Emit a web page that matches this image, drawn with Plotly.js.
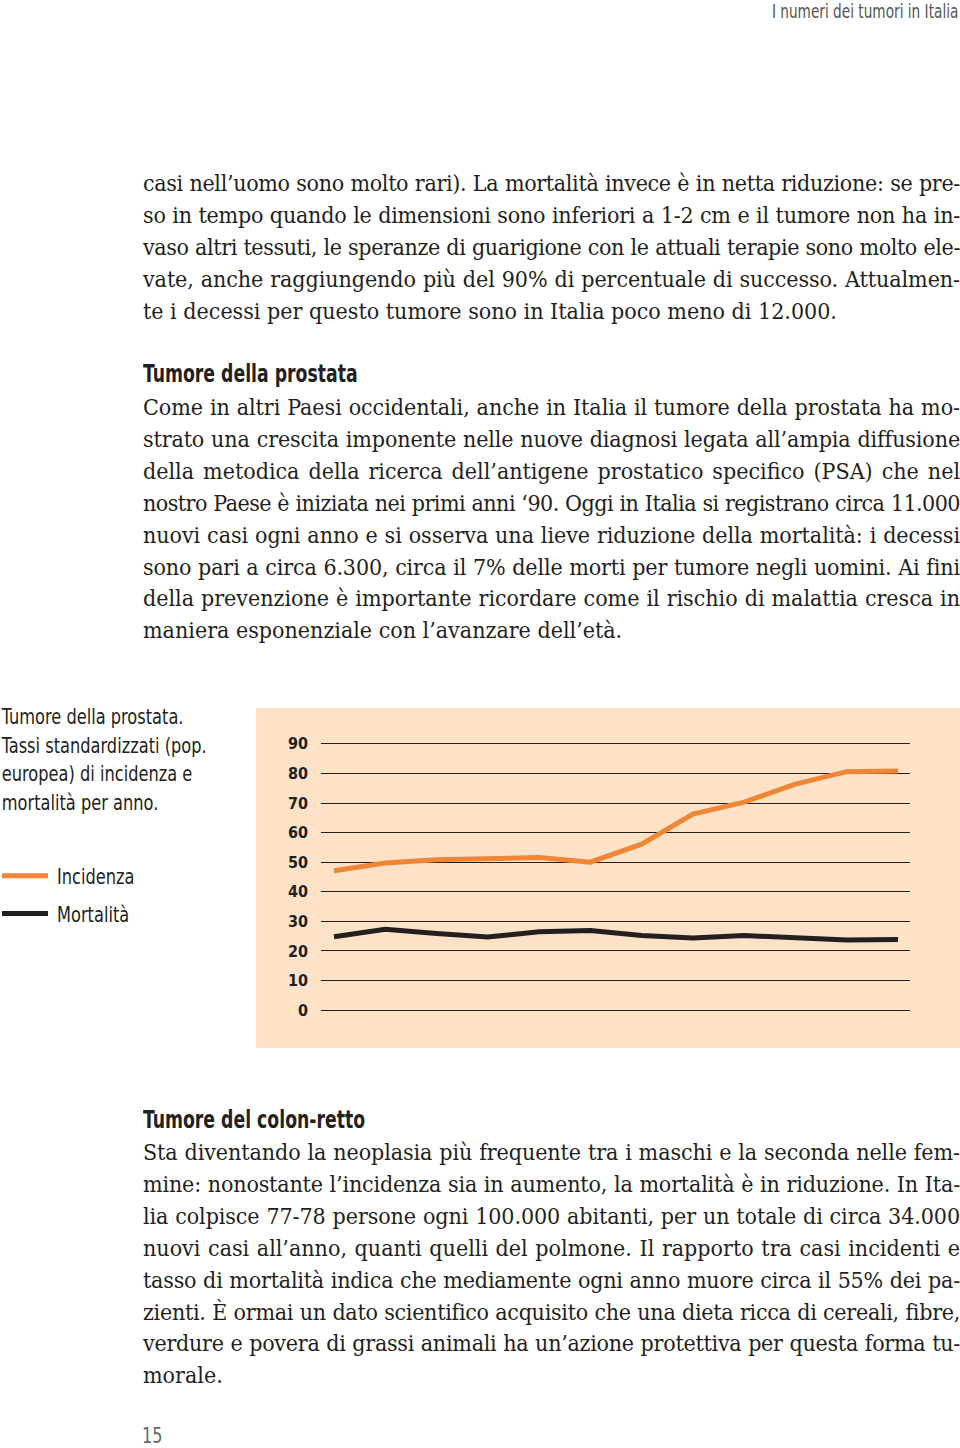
<!DOCTYPE html>
<html lang="it">
<head>
<meta charset="utf-8">
<script src="https://cdn.plot.ly/plotly-3.0.1.min.js"></script>
<style>
  html, body { margin:0; padding:0; width:960px; height:1448px; overflow:hidden; background:#fff; }
  .hdr { position:absolute; right:2px; top:0px; font-family:"DejaVu Sans Condensed","Liberation Sans",sans-serif; font-weight:300; font-size:20px; line-height:22px; color:#555; transform:scaleX(0.76); transform-origin:100% 50%; white-space:nowrap; }
  .para { position:absolute; left:143px; width:817px; font-family:"DejaVu Serif","Liberation Serif",serif; font-stretch:condensed; font-size:23px; line-height:31.9px; color:#231f20; }
  .ln { white-space:nowrap; width:817px; text-align:left; }
  .ln.j { text-align:justify; text-align-last:justify; }
  .h { position:absolute; left:143px; font-family:"DejaVu Sans Condensed","Liberation Sans",sans-serif; font-weight:bold; font-size:24px; color:#231f20; line-height:30px; white-space:nowrap; transform:scaleX(0.80); transform-origin:0 50%; }
  .pg { position:absolute; left:142px; top:1424px; font-family:"DejaVu Sans Condensed","Liberation Sans",sans-serif; font-size:21px; color:#666; transform:scaleX(0.85); transform-origin:0 50%; }
  #chart { position:absolute; left:0; top:700px; width:960px; height:360px; }
  #chart .annotation-text { transform-box:fill-box; transform-origin:0 50%; transform:scaleX(0.82); }
  #chart .legendtext { transform-box:fill-box; transform-origin:0 50%; transform:translateX(4px) scaleX(0.82); }
</style>
</head>
<body>
<div class="hdr">I numeri dei tumori in Italia</div>

<div class="para" id="p1" style="top:168px"></div>
<div class="h" style="top:359px">Tumore della prostata</div>
<div class="para" id="p2" style="top:392px"></div>
<div class="h" style="top:1105px">Tumore del colon-retto</div>
<div class="para" id="p3" style="top:1137px"></div>
<div class="pg">15</div>

<div id="chart"></div>

<script>
// ---- testo della pagina ----
const righeP1 = [
  "casi nell’uomo sono molto rari). La mortalità invece è in netta riduzione: se pre-",
  "so in tempo quando le dimensioni sono inferiori a 1-2 cm e il tumore non ha in-",
  "vaso altri tessuti, le speranze di guarigione con le attuali terapie sono molto ele-",
  "vate, anche raggiungendo più del 90% di percentuale di successo. Attualmen-",
  "te i decessi per questo tumore sono in Italia poco meno di 12.000."
];
const righeP2 = [
  "Come in altri Paesi occidentali, anche in Italia il tumore della prostata ha mo-",
  "strato una crescita imponente nelle nuove diagnosi legata all’ampia diffusione",
  "della metodica della ricerca dell’antigene prostatico specifico (PSA) che nel",
  "nostro Paese è iniziata nei primi anni ‘90. Oggi in Italia si registrano circa 11.000",
  "nuovi casi ogni anno e si osserva una lieve riduzione della mortalità: i decessi",
  "sono pari a circa 6.300, circa il 7% delle morti per tumore negli uomini. Ai fini",
  "della prevenzione è importante ricordare come il rischio di malattia cresca in",
  "maniera esponenziale con l’avanzare dell’età."
];
const righeP3 = [
  "Sta diventando la neoplasia più frequente tra i maschi e la seconda nelle fem-",
  "mine: nonostante l’incidenza sia in aumento, la mortalità è in riduzione. In Ita-",
  "lia colpisce 77-78 persone ogni 100.000 abitanti, per un totale di circa 34.000",
  "nuovi casi all’anno, quanti quelli del polmone. Il rapporto tra casi incidenti e",
  "tasso di mortalità indica che mediamente ogni anno muore circa il 55% dei pa-",
  "zienti. È ormai un dato scientifico acquisito che una dieta ricca di cereali, fibre,",
  "verdure e povera di grassi animali ha un’azione protettiva per questa forma tu-",
  "morale."
];

function fill(id, lines) {
  const box = document.getElementById(id);
  lines.forEach((t, i) => {
    const d = document.createElement('div');
    d.className = 'ln';
    d.textContent = t;
    box.appendChild(d);
    const r = document.createRange();
    r.selectNodeContents(d);
    const w = r.getBoundingClientRect().width;
    if (w > 812) {
      d.style.letterSpacing = ((812 - w) / t.length).toFixed(3) + 'px';
    }
    if (i < lines.length - 1) d.classList.add('j');
  });
}
fill('p1', righeP1);
fill('p2', righeP2);
fill('p3', righeP3);

// ---- dati del grafico ----
const punti = [0, 1, 2, 3, 4, 5, 6, 7, 8, 9, 10, 11];
const incidenza = [47.1, 49.7, 50.8, 51.3, 51.6, 50.0, 56.1, 66.3, 70.3, 76.4, 80.6, 80.8];
const mortalita = [24.8, 27.3, 25.9, 24.7, 26.5, 26.9, 25.2, 24.4, 25.2, 24.6, 23.7, 23.9];
const tickY = [0, 10, 20, 30, 40, 50, 60, 70, 80, 90];
const nomi = ['Incidenza', 'Mortalità'];
const titolo = 'Tumore della prostata.<br>Tassi standardizzati (pop.<br>europea) di incidenza e<br>mortalità per anno.';

const sans = '"DejaVu Sans Condensed","Liberation Sans",sans-serif';

const traces = [
  { x: punti, y: incidenza, name: nomi[0], type: 'scatter', mode: 'lines',
    line: { color: '#ee8636', width: 5 }, legendgroup: 'a', hoverinfo: 'skip' },
  { x: punti, y: mortalita, name: nomi[1], type: 'scatter', mode: 'lines',
    line: { color: '#231f20', width: 5 }, legendgroup: 'b', hoverinfo: 'skip' }
];

const L = 321, R = 910, T = 735, B = 1019, TOP = 700;
const pw = R - L, ph = B - T;

const layout = {
  width: 960, height: 360,
  margin: { l: L, r: 960 - R, t: T - TOP, b: TOP + 360 - B, pad: 0, autoexpand: false },
  paper_bgcolor: 'rgba(0,0,0,0)',
  plot_bgcolor: 'rgba(0,0,0,0)',
  showlegend: true,
  legend: { x: (-3 - L) / pw, xanchor: 'left', y: (B - 855) / ph, yanchor: 'top',
            font: { family: sans, size: 22, color: '#231f20' },
            traceorder: 'grouped', tracegroupgap: 6, bgcolor: 'rgba(0,0,0,0)',
            itemwidth: 46 },
  annotations: [{ text: titolo, xref: 'paper', yref: 'paper', showarrow: false,
                  x: (-1 - L) / pw, xanchor: 'left', y: (B - 702) / ph, yanchor: 'top',
                  align: 'left', font: { family: sans, size: 22, color: '#231f20' } }],
  xaxis: { range: [-13 / 51.27, 11 + 12 / 51.27], showgrid: false, zeroline: false,
           showticklabels: false, ticks: '', showline: false, fixedrange: true },
  yaxis: { range: [-3, 93], tickvals: tickY, showgrid: true, gridcolor: '#231f20', gridwidth: 1,
           zeroline: false, showline: false, ticks: '', ticklabelstandoff: 12,
           tickfont: { family: sans, size: 16, color: '#231f20', weight: 'bold' }, fixedrange: true },
  shapes: [{ type: 'rect', xref: 'paper', yref: 'paper', layer: 'below',
             x0: (256 - L) / pw, x1: (962 - L) / pw, y0: (B - 1048) / ph, y1: (B - 708) / ph,
             fillcolor: '#fde2c7', line: { width: 0 } }]
};

Plotly.newPlot('chart', traces, layout, { staticPlot: true, displayModeBar: false });
</script>
</body>
</html>
